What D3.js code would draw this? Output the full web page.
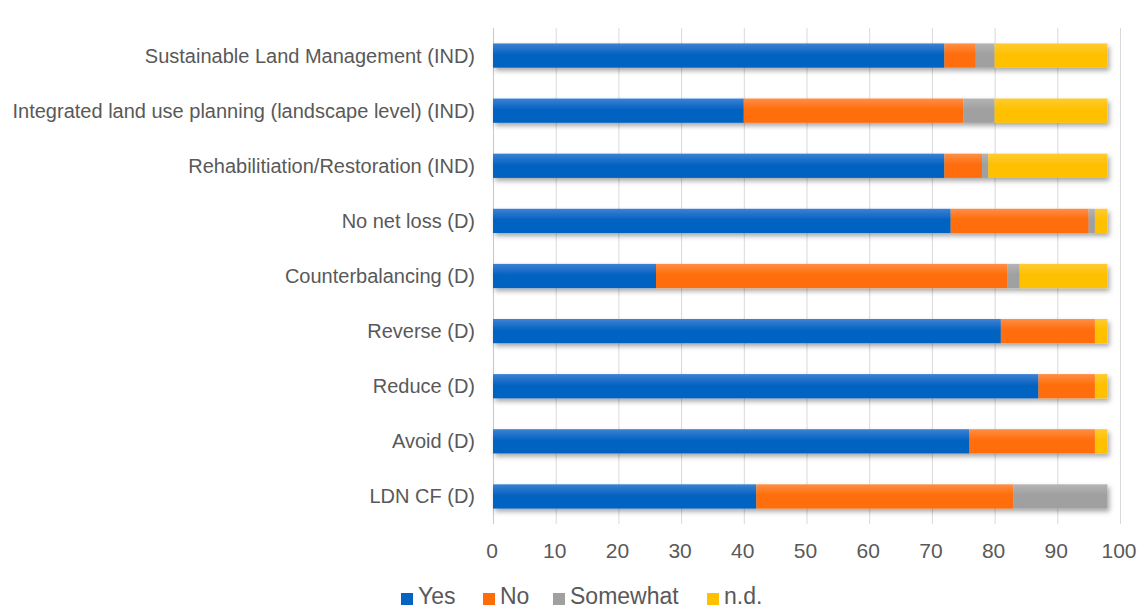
<!DOCTYPE html>
<html>
<head>
<meta charset="utf-8">
<script src="https://cdn.jsdelivr.net/npm/d3@7"></script>
<style>
  body { margin: 0; background: #fff; }
  text { font-family: "Liberation Sans", Arial, sans-serif; fill: #595959; }
</style>
</head>
<body>
<script>
const categories = [
    'Sustainable Land Management (IND)',
    'Integrated land use planning (landscape level) (IND)',
    'Rehabilitiation/Restoration (IND)',
    'No net loss (D)',
    'Counterbalancing (D)',
    'Reverse (D)',
    'Reduce (D)',
    'Avoid (D)',
    'LDN CF (D)'
];
const seriesNames = ['Yes', 'No', 'Somewhat', 'n.d.'];
const yes      = [72, 40, 72, 73, 26, 81, 87, 76, 42];
const no       = [5, 35, 6, 22, 56, 15, 9, 20, 41];
const somewhat = [3, 5, 1, 1, 2, 0, 0, 0, 15];
const nd       = [18, 18, 19, 2, 14, 2, 2, 2, 0];
const xTicks   = [0, 10, 20, 30, 40, 50, 60, 70, 80, 90, 100];

const colors = ['#0563c1', '#ff6d0a', '#a0a0a0', '#ffc000'];
const topColors = ['#3c82d4', '#ff8e45', '#b4b4b4', '#ffcb30'];

const width = 1148;
const height = 609;
let svg = d3.select('body')
    .append('svg')
    .attr('width', width)
    .attr('height', height);

const defs = svg.append('defs');
colors.forEach(function(c, i) {
    let g = defs.append('linearGradient')
        .attr('id', 'grad' + i)
        .attr('x1', 0).attr('y1', 0)
        .attr('x2', 0).attr('y2', 1);
    g.append('stop').attr('offset', '0%').attr('stop-color', topColors[i]);
    g.append('stop').attr('offset', '45%').attr('stop-color', c);
    g.append('stop').attr('offset', '100%').attr('stop-color', c);
});
const shadow = defs.append('filter')
    .attr('id', 'shadow')
    .attr('x', '-5%').attr('y', '-30%')
    .attr('width', '110%').attr('height', '180%');
shadow.append('feDropShadow')
    .attr('dx', 2).attr('dy', 3)
    .attr('stdDeviation', 2.5)
    .attr('flood-color', '#000')
    .attr('flood-opacity', 0.35);

const x = d3.scaleLinear()
    .domain([0, 100])
    .range([493, 1120]);

const y = d3.scaleBand()
    .domain(categories)
    .range([28, 524])
    .paddingInner(0.56)
    .paddingOuter(0.28);

// gridlines
svg.append('g')
    .selectAll('line')
    .data(xTicks)
    .join('line')
    .attr('x1', d => x(d) + 0.5)
    .attr('x2', d => x(d) + 0.5)
    .attr('y1', 28)
    .attr('y2', 524)
    .style('stroke', d => d == 0 ? '#c8c8c8' : '#d9d9d9')
    .style('stroke-width', 1);

// stacked bars
const table = categories.map((c, i) => ({
    cat: c, 'Yes': yes[i], 'No': no[i], 'Somewhat': somewhat[i], 'n.d.': nd[i]
}));
const stacked = d3.stack().keys(seriesNames)(table);

let bars = svg.append('g').attr('filter', 'url(#shadow)');
stacked.forEach(function(layer, i) {
    bars.append('g')
        .selectAll('rect')
        .data(layer)
        .join('rect')
        .attr('x', d => x(d[0]))
        .attr('width', d => x(d[1]) - x(d[0]))
        .attr('y', d => y(d.data.cat))
        .attr('height', y.bandwidth())
        .style('fill', 'url(#grad' + i + ')');
});

// category labels
svg.append('g')
    .selectAll('text')
    .data(categories)
    .join('text')
    .attr('x', 475)
    .attr('y', d => y(d) + y.bandwidth() / 2)
    .attr('dy', '0.35em')
    .attr('text-anchor', 'end')
    .style('font-size', '20px')
    .text(d => d);

// x tick labels
svg.append('g')
    .selectAll('text')
    .data(xTicks)
    .join('text')
    .attr('x', d => x(d) - 1)
    .attr('y', 551)
    .attr('dy', '0.35em')
    .attr('text-anchor', 'middle')
    .style('font-size', '21px')
    .text(d => d);

// legend
const legendX = [401, 483, 553, 707];
let legend = svg.append('g');
seriesNames.forEach(function(s, i) {
    legend.append('rect')
        .attr('x', legendX[i])
        .attr('y', 593)
        .attr('width', 12)
        .attr('height', 12)
        .style('fill', colors[i]);
    legend.append('text')
        .attr('x', legendX[i] + 17)
        .attr('y', 604)
        .style('font-size', '23px')
        .text(s);
});
</script>
</body>
</html>
